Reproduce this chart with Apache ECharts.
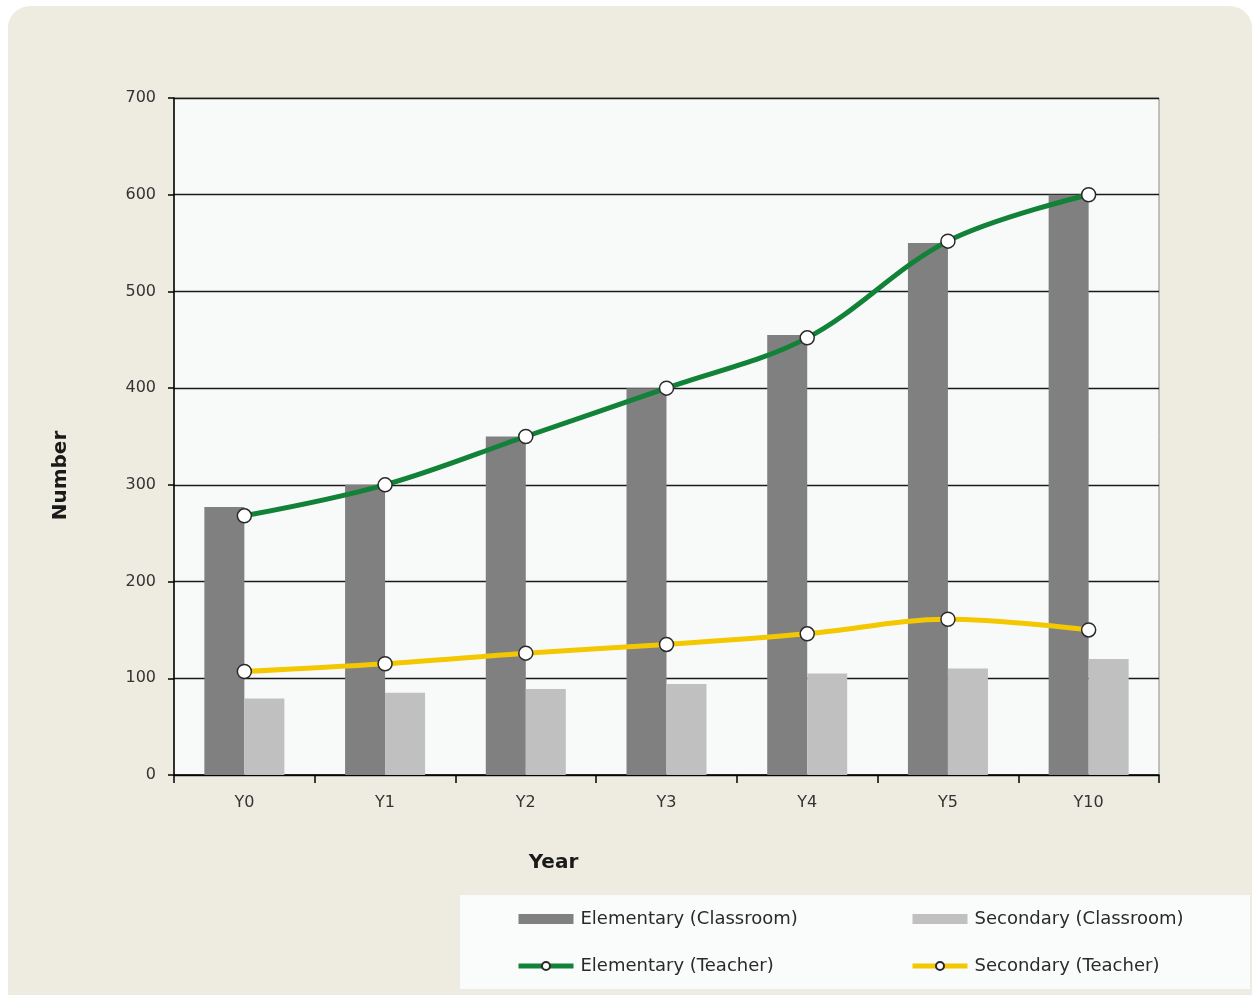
<!DOCTYPE html>
<html>
<head>
<meta charset="utf-8">
<script src="https://cdn.jsdelivr.net/npm/echarts@6/dist/echarts.min.js"></script>
<style>
html,body{margin:0;padding:0;background:#fff;}
#main{width:1255px;height:995px;}
</style>
</head>
<body>
<div id="main"></div>
<script>
const categories = ['Y0','Y1','Y2','Y3','Y4','Y5','Y10'];
const elementaryClassroom = [277, 300, 350, 400, 455, 550, 600];
const secondaryClassroom = [79, 85, 89, 94, 105, 110, 120];
const elementaryTeacher = [268, 300, 350, 400, 452, 552, 600];
const secondaryTeacher = [107, 115, 126, 135, 146, 161, 150];
const yTicks = { min: 0, max: 700, interval: 100 };

const FONT = 'DejaVu Sans';
const chart = echarts.init(document.getElementById('main'), null, {renderer: 'canvas'});

const markerStyle = { color: '#ffffff', borderColor: '#2a2a2a', borderWidth: 1.5 };
const legendText = { fontFamily: FONT, fontSize: 18, color: '#2a2a2a', lineHeight: 20, padding: [0,0,0,2] };

chart.setOption({
  backgroundColor: '#ffffff',
  animation: false,
  graphic: [
    { type: 'rect', z: -10, shape: { x: 8, y: 6, width: 1244, height: 1010, r: 22 }, style: { fill: '#EEECE1' } },
    { type: 'rect', z: -5, shape: { x: 460, y: 895, width: 790, height: 94 }, style: { fill: '#FAFBFB' } }
  ],
  grid: {
    left: 174, right: 96, top: 98, bottom: 220,
    show: true, backgroundColor: '#F8FAFA', borderColor: '#8a8a8a', borderWidth: 1
  },
  xAxis: {
    type: 'category',
    data: categories,
    name: 'Year',
    nameLocation: 'middle',
    nameGap: 78,
    nameTextStyle: { fontFamily: FONT, fontSize: 20, fontWeight: 'bold', color: '#1a1a1a', padding: [0, 226, 0, 0] },
    axisLine: { lineStyle: { color: '#000', width: 1.5 } },
    axisTick: { show: true, length: 8, lineStyle: { color: '#000', width: 1.5 } },
    axisLabel: { fontFamily: FONT, fontSize: 16, color: '#333', margin: 20 },
    splitLine: { show: false }
  },
  yAxis: {
    type: 'value',
    min: yTicks.min, max: yTicks.max, interval: yTicks.interval,
    name: 'Number',
    nameLocation: 'middle',
    nameGap: 103,
    nameRotate: 90,
    nameTextStyle: { fontFamily: FONT, fontSize: 20, fontWeight: 'bold', color: '#1a1a1a', padding: [0, 78, 0, 0] },
    axisLine: { show: true, lineStyle: { color: '#000', width: 1.5 } },
    axisTick: { show: true, length: 6, lineStyle: { color: '#000', width: 1.5 } },
    axisLabel: { fontFamily: FONT, fontSize: 16, color: '#333', margin: 18 },
    splitLine: { show: true, lineStyle: { color: '#1a1a1a', width: 1.3 } }
  },
  legend: [
    {
      left: 516, top: 909, orient: 'vertical', itemGap: 27, padding: 0,
      itemWidth: 55, itemHeight: 10,
      textStyle: legendText,
      data: [
        { name: 'Elementary (Classroom)', icon: 'rect' },
        { name: 'Elementary (Teacher)', lineStyle: { width: 5 } }
      ]
    },
    {
      left: 910, top: 909, orient: 'vertical', itemGap: 27, padding: 0,
      itemWidth: 55, itemHeight: 10,
      textStyle: legendText,
      data: [
        { name: 'Secondary (Classroom)', icon: 'rect' },
        { name: 'Secondary (Teacher)', lineStyle: { width: 5 } }
      ]
    }
  ],
  series: [
    {
      name: 'Elementary (Classroom)', type: 'bar', data: elementaryClassroom,
      barWidth: 40, barGap: '0%', itemStyle: { color: '#808080' }, z: 2
    },
    {
      name: 'Secondary (Classroom)', type: 'bar', data: secondaryClassroom,
      barWidth: 40, barGap: '0%', itemStyle: { color: '#C0C0C0' }, z: 2
    },
    {
      name: 'Elementary (Teacher)', type: 'line', data: elementaryTeacher,
      smooth: 0.35, symbol: 'circle', symbolSize: 14, z: 5,
      lineStyle: { color: '#118237', width: 5 },
      itemStyle: markerStyle,
      color: '#118237'
    },
    {
      name: 'Secondary (Teacher)', type: 'line', data: secondaryTeacher,
      smooth: 0.35, symbol: 'circle', symbolSize: 14, z: 5,
      lineStyle: { color: '#F4C800', width: 5 },
      itemStyle: markerStyle,
      color: '#F4C800'
    }
  ]
});
</script>
</body>
</html>
